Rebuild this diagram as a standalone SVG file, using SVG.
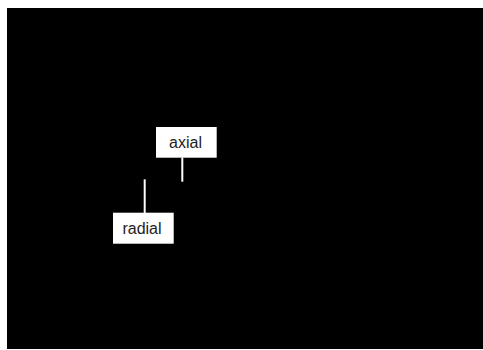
<svg xmlns="http://www.w3.org/2000/svg" width="483" height="350" viewBox="0 0 483 350">
<style>
.lbl{fill:#fff}
.t{font-family:"Liberation Sans",Arial,sans-serif;font-size:16px;fill:#222;text-anchor:middle}
.c{stroke:#fff;stroke-width:2;fill:none}
</style>
<rect x="0" y="0" width="483" height="350" fill="#fff"/>
<rect x="7" y="8" width="476" height="341" fill="#000"/>
<g id="connectors">
<line class="c" x1="182.3" y1="157.5" x2="182.3" y2="181.7"/>
<line class="c" x1="144.7" y1="179.3" x2="144.7" y2="213"/>
</g>
<g id="axial">
<rect class="lbl" x="156" y="127" width="60.7" height="30.7"/>
<text class="t" x="185.5" y="147.5">axial</text>
</g>
<g id="radial">
<rect class="lbl" x="113" y="212.7" width="60.7" height="31"/>
<text class="t" x="142" y="234">radial</text>
</g>
</svg>
